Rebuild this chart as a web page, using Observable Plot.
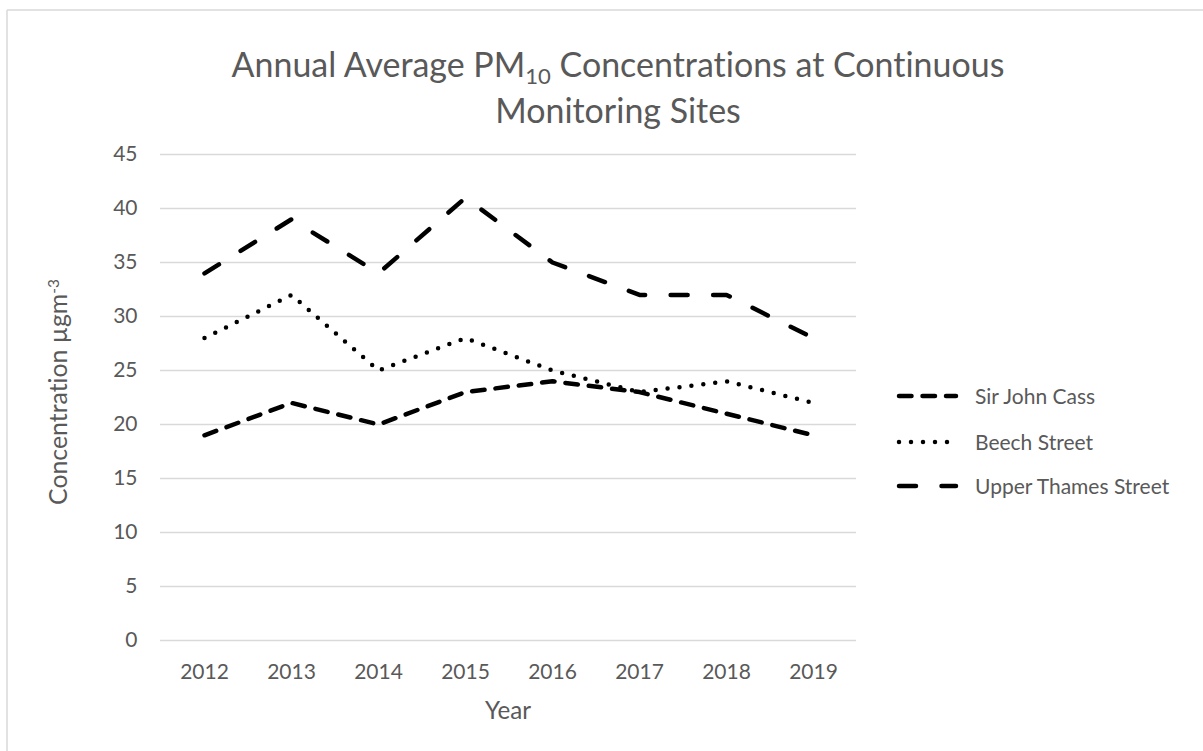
<!DOCTYPE html>
<html><head><meta charset="utf-8">
<script src="https://cdn.jsdelivr.net/npm/d3@7"></script>
<script src="https://cdn.jsdelivr.net/npm/@observablehq/plot@0.6"></script>
<style>html,body{margin:0;padding:0;background:#fff;} svg{display:block} svg text{font-variant-ligatures:none;font-feature-settings:"liga" 0;}</style>
</head><body><div id="chart"></div>
<script>
// ---- data ----
const years = ["2012","2013","2014","2015","2016","2017","2018","2019"];
const sirJohnCass = [19, 22, 20, 23, 24, 23, 21, 19];
const beechStreet = [28, 32, 25, 28, 25, 23, 24, 22];
const upperThamesStreet = [34, 39, 34, 41, 35, 32, 32, 28];
const siteNames = ["Sir John Cass", "Beech Street", "Upper Thames Street"];
const yTicks = [0, 5, 10, 15, 20, 25, 30, 35, 40, 45];

// ---- styles ----
const dashBySite = {
  "Sir John Cass": "12.5 11",
  "Beech Street": "0 12",
  "Upper Thames Street": "17 25.5"
};
const textColor = "#595959";
const gridColor = "#d9d9d9";
const font = "Lato, 'Open Sans', sans-serif";

const seriesValues = [sirJohnCass, beechStreet, upperThamesStreet];
const rows = [];
siteNames.forEach((s, k) => seriesValues[k].forEach((v, i) => rows.push({site: s, year: years[i], value: v})));

const W = 1203, H = 751;
const plot = Plot.plot({
  width: W, height: H,
  marginLeft: 160, marginRight: 347, marginTop: 154, marginBottom: 111,
  style: {fontFamily: font, fontSize: "21px", color: textColor, background: "transparent", overflow: "visible"},
  x: {type: "point", domain: years, padding: 0.5, label: null},
  y: {domain: [0, 45], label: null},
  marks: [
    Plot.ruleY(yTicks, {stroke: gridColor, strokeWidth: 1.5}),
    Plot.axisY({ticks: yTicks, tickSize: 0, tickPadding: 23, label: null}),
    Plot.axisX({tickSize: 0, tickPadding: 24, label: null}),
    ...siteNames.map(s => Plot.line(rows.filter(d => d.site === s), {
      x: "year", y: "value", stroke: "#000", strokeWidth: 4.5,
      strokeDasharray: dashBySite[s], strokeLinecap: "round", strokeLinejoin: "round"
    }))
  ]
});
document.getElementById("chart").appendChild(plot);

const svg = d3.select(plot);
// chart border (top and left edges visible)
svg.append("line").attr("x1", 7).attr("x2", W).attr("y1", 10).attr("y2", 10)
  .attr("stroke", gridColor).attr("stroke-width", 1.5);
svg.append("line").attr("x1", 7).attr("x2", 7).attr("y1", 10).attr("y2", H)
  .attr("stroke", gridColor).attr("stroke-width", 1.5);

function fitFont(sel, base, target) {
  const n = sel.node().getComputedTextLength();
  if (n > 0) sel.attr("font-size", base * target / n);
}

// title
const title = svg.append("text").attr("text-anchor", "middle")
  .attr("font-family", font).attr("fill", textColor).attr("font-size", 31.5);
const l1 = title.append("tspan").attr("x", 618).attr("y", 77);
l1.append("tspan").text("Annual Average PM");
l1.append("tspan").attr("font-size", "0.65em").attr("dy", 7).text("10");
l1.append("tspan").attr("dy", -7).text(" Concentrations at Continuous");
title.append("tspan").attr("x", 618).attr("y", 123).text("Monitoring Sites");
const len = l1.node().getComputedTextLength();
if (len > 0) title.attr("font-size", 31.5 * 773 / len);

// y-axis label
const yl = svg.append("text").attr("transform", "translate(67,392) rotate(-90)")
  .attr("text-anchor", "middle").attr("font-family", font).attr("font-size", 23).attr("fill", textColor);
yl.append("tspan").text("Concentration µgm");
yl.append("tspan").attr("font-size", "0.62em").attr("dy", "-0.55em").text("-3");
fitFont(yl, 23, 226);

// x-axis label
const xl = svg.append("text").attr("x", 508).attr("y", 719).attr("text-anchor", "middle")
  .attr("font-family", font).attr("font-size", 23).attr("fill", textColor).text("Year");
fitFont(xl, 23, 46);

// legend
const legendY = [396, 442, 486];
siteNames.forEach((s, k) => {
  const g = svg.append("g");
  g.append("line").attr("x1", 899).attr("x2", 956).attr("y1", legendY[k]).attr("y2", legendY[k])
    .attr("stroke", "#000").attr("stroke-width", 4.5).attr("stroke-linecap", "round")
    .attr("stroke-dasharray", dashBySite[s]);
  g.append("text").attr("x", 975).attr("y", legendY[k]).attr("dy", "0.36em").attr("text-anchor", "start")
    .attr("font-family", font).attr("font-size", 21).attr("fill", textColor).text(s);
});
</script>
</body></html>
